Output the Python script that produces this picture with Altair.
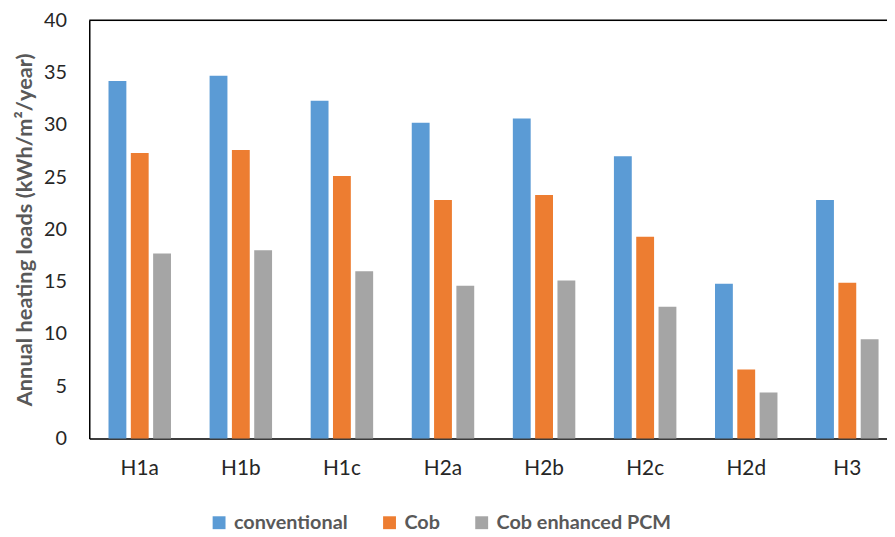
import altair as alt
import pandas as pd

categories = ["H1a", "H1b", "H1c", "H2a", "H2b", "H2c", "H2d", "H3"]
series = ["conventional", "Cob", "Cob enhanced PCM"]
conventional = [34.2, 34.7, 32.3, 30.2, 30.6, 27.0, 14.8, 22.8]
cob = [27.3, 27.6, 25.1, 22.8, 23.3, 19.3, 6.6, 14.9]
cob_pcm = [17.7, 18.0, 16.0, 14.6, 15.1, 12.6, 4.4, 9.5]
colors = ["#5B9BD5", "#ED7D31", "#A5A5A5"]
y_ticks = [0, 5, 10, 15, 20, 25, 30, 35, 40]

rows = []
for s, vals in zip(series, [conventional, cob, cob_pcm]):
    for c, v in zip(categories, vals):
        rows.append({"case": c, "series": s, "value": v})
df = pd.DataFrame(rows)

FONT = "Lato"

bars = alt.Chart(df).mark_bar().encode(
    x=alt.X(
        "case:N",
        sort=categories,
        scale=alt.Scale(paddingInner=0.382, paddingOuter=0.137, align=0.695),
        axis=alt.Axis(
            title=None, labelAngle=0, ticks=False, labelPadding=19,
            labelFontSize=21, labelColor="#262626", labelFont=FONT,
            domainColor="black", domainWidth=1.5,
        ),
    ),
    xOffset=alt.XOffset("series:N", sort=series,
                        scale=alt.Scale(paddingInner=0.2, paddingOuter=0)),
    y=alt.Y(
        "value:Q",
        scale=alt.Scale(domain=[0, 40], nice=False),
        axis=alt.Axis(
            values=y_ticks, grid=False, ticks=False, labelPadding=23,
            labelFontSize=20, labelColor="#262626", labelFont=FONT,
            domainColor="black", domainWidth=1.5,
            title="Annual heating loads (kWh/m²/year)",
            titleFont=FONT, titleFontSize=22, titleFontWeight="bold",
            titleColor="#595959", titlePadding=7,
        ),
    ),
    color=alt.Color(
        "series:N",
        sort=series,
        scale=alt.Scale(domain=series, range=colors),
        legend=alt.Legend(
            title=None, orient="none", direction="horizontal",
            legendX=121, legendY=497, padding=0,
            symbolType="square", symbolSize=169, symbolStrokeWidth=0,
            labelFont=FONT, labelFontSize=20, labelFontWeight="bold",
            labelColor="#595959", labelOffset=5, columnPadding=32,
            labelLimit=400,
        ),
    ),
)

top_line = alt.Chart(pd.DataFrame({"a": [0]})).mark_rule(
    color="black", strokeWidth=1.5
).encode(y=alt.datum(40))

chart = alt.layer(bars, top_line).properties(
    width=805,
    height=422,
    autosize=alt.AutoSizeParams(type="none"),
    padding={"left": 82, "top": 10, "right": 0, "bottom": 96},
).configure_view(stroke=None).configure(font=FONT)

chart.save("out.html", embed_options={"renderer": "svg", "actions": False})
